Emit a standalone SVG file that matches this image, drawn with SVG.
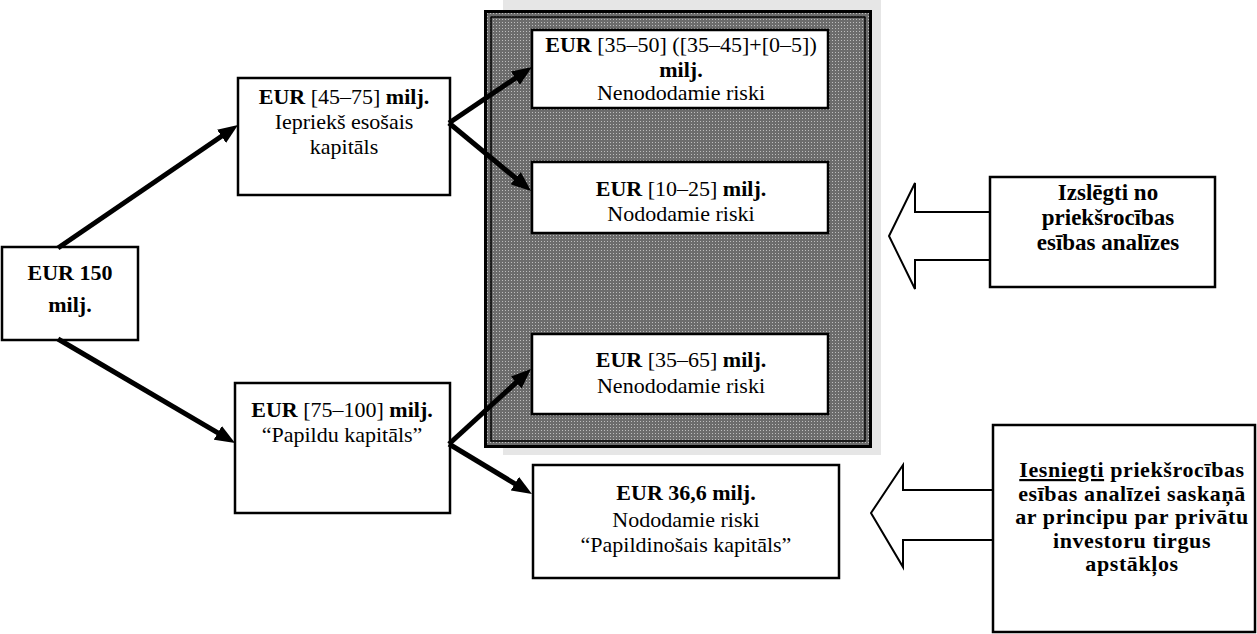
<svg xmlns="http://www.w3.org/2000/svg" width="1257" height="634" viewBox="0 0 1257 634">
<style>
text{font-family:"Liberation Serif","Times New Roman",serif;font-size:22px;fill:#000;text-anchor:middle}
.b{font-weight:bold}
.rb{font-weight:bold;font-size:23px}
.hb{font-weight:bold;font-size:22px;letter-spacing:0.6px}
.box{fill:#fff;stroke:#000;stroke-width:2.5}
.conn{stroke:#000;stroke-width:5;fill:none;marker-end:url(#ah)}
.barrow{fill:#fff;stroke:#000;stroke-width:2}
</style>
<defs>
<marker id="ah" markerUnits="userSpaceOnUse" viewBox="0 0 20 16" refX="8" refY="8" markerWidth="20" markerHeight="16" orient="auto">
<path d="M0,0 L20,8 L0,16 z" fill="#000"/>
</marker>
<pattern id="dots" width="3" height="3" patternUnits="userSpaceOnUse">
<rect width="3" height="3" fill="#6c6c6c"/>
<rect x="1" y="1" width="1" height="1" fill="#bdbdbd"/>
</pattern>
</defs>
<rect width="1257" height="634" fill="#fff"/>
<g id="panel">
<rect x="503" y="0" width="378" height="455" fill="#e6e6e6"/>
<rect x="485.5" y="11.5" width="385" height="435" fill="url(#dots)" stroke="#000" stroke-width="3"/>
<rect x="491" y="17" width="374" height="424" fill="none" stroke="#000" stroke-width="1.5"/>
</g>
<g id="n150">
<rect class="box" x="2" y="247" width="136" height="93"/>
<text class="b" x="70" y="280">EUR 150</text>
<text class="b" x="70" y="312">milj.</text>
</g>
<g id="nE">
<rect class="box" x="238" y="78" width="212" height="117"/>
<text x="344" y="104"><tspan class="b">EUR</tspan> [45–75] <tspan class="b">milj.</tspan></text>
<text x="344" y="129">Iepriekš esošais</text>
<text x="344" y="154">kapitāls</text>
</g>
<g id="nF">
<rect class="box" x="235" y="383" width="215" height="130"/>
<text x="342" y="417"><tspan class="b">EUR</tspan> [75–100] <tspan class="b">milj.</tspan></text>
<text x="342" y="442">“Papildu kapitāls”</text>
</g>
<g id="nA">
<rect class="box" x="532" y="30" width="296" height="78"/>
<text x="681" y="52"><tspan class="b">EUR</tspan> [35–50] ([35–45]+[0–5])</text>
<text class="b" x="681" y="77">milj.</text>
<text x="681" y="100">Nenododamie riski</text>
</g>
<g id="nB">
<rect class="box" x="532" y="162" width="296" height="71"/>
<text x="681" y="196"><tspan class="b">EUR</tspan> [10–25] <tspan class="b">milj.</tspan></text>
<text x="681" y="221">Nododamie riski</text>
</g>
<g id="nC">
<rect class="box" x="532" y="334" width="296" height="80"/>
<text x="681" y="367"><tspan class="b">EUR</tspan> [35–65] <tspan class="b">milj.</tspan></text>
<text x="681" y="393">Nenododamie riski</text>
</g>
<g id="nD">
<rect class="box" x="533" y="465" width="306" height="113"/>
<text class="b" x="686" y="500">EUR 36,6 milj.</text>
<text x="686" y="527">Nododamie riski</text>
<text x="686" y="552">“Papildinošais kapitāls”</text>
</g>
<g id="nG">
<polygon class="barrow" points="990,212 915,212 915,183 889,236 915,289 915,260 990,260"/>
<rect class="box" x="990" y="177" width="225" height="110"/>
<text class="rb" x="1108" y="200">Izslēgti no</text>
<text class="rb" x="1108" y="225">priekšrocības</text>
<text class="rb" x="1108" y="250">esības analīzes</text>
</g>
<g id="nH">
<polygon class="barrow" points="993,490 903,490 903,465 871,513 903,567 903,540 993,540"/>
<rect class="box" x="993" y="425" width="262" height="207"/>
<text class="hb" x="1132" y="477"><tspan text-decoration="underline">Iesniegti</tspan> priekšrocības</text>
<text class="hb" x="1132" y="500.5">esības analīzei saskaņā</text>
<text class="hb" x="1132" y="524">ar principu par privātu</text>
<text class="hb" x="1132" y="547.5">investoru tirgus</text>
<text class="hb" x="1132" y="571">apstākļos</text>
</g>
<g id="connectors">
<line class="conn" x1="58" y1="248" x2="228.1" y2="131.8"/>
<line class="conn" x1="58" y1="339" x2="224.7" y2="436.9"/>
<line class="conn" x1="449" y1="123" x2="522.05" y2="73.7"/>
<line class="conn" x1="449" y1="123" x2="521.8" y2="183.3"/>
<line class="conn" x1="449" y1="444" x2="522.1" y2="377.1"/>
<line class="conn" x1="449" y1="444" x2="521.7" y2="487.8"/>
</g>
</svg>
